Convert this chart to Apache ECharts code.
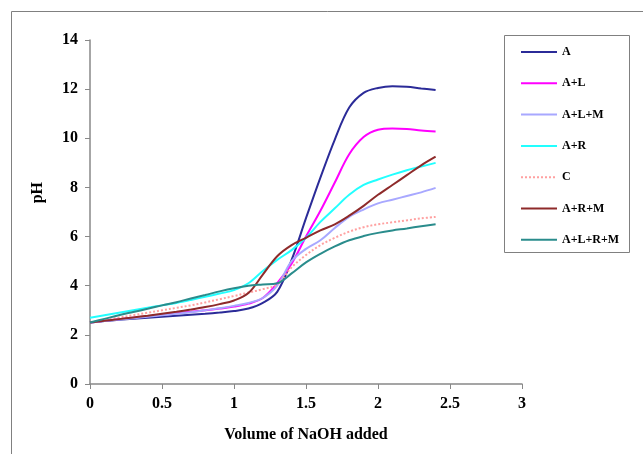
<!DOCTYPE html>
<html>
<head>
<meta charset="utf-8">
<script src="https://cdn.jsdelivr.net/npm/echarts@6/dist/echarts.min.js"></script>
<style>
html,body{margin:0;padding:0;background:#fff;}
#chart{width:643px;height:454px;}
</style>
</head>
<body>
<div id="chart"></div>
<script>
var volumes = [0,0.1,0.2,0.3,0.4,0.5,0.6,0.7,0.8,0.9,1.0,1.1,1.2,1.3,1.4,1.5,1.6,1.7,1.8,1.9,2.0,2.1,2.2,2.3,2.4];
var seriesNames = ['A','A+L','A+L+M','A+R','C','A+R+M','A+L+R+M'];
var phA      = [2.5,2.56,2.61,2.66,2.7,2.74,2.78,2.82,2.86,2.91,2.97,3.07,3.3,3.75,5.05,6.75,8.4,9.95,11.25,11.85,12.05,12.12,12.1,12.03,11.97];
var phAL     = [2.5,2.57,2.64,2.7,2.76,2.82,2.88,2.94,3.0,3.07,3.15,3.27,3.5,4.1,4.9,6.0,7.05,8.2,9.35,10.05,10.35,10.4,10.38,10.32,10.28];
var phALM    = [2.5,2.56,2.62,2.68,2.74,2.8,2.86,2.92,3.0,3.08,3.18,3.3,3.5,4.0,5.0,5.5,5.85,6.35,6.8,7.1,7.35,7.5,7.65,7.8,7.98];
var phAR     = [2.7,2.8,2.9,3.0,3.1,3.2,3.3,3.42,3.55,3.68,3.82,4.1,4.6,5.05,5.45,5.95,6.6,7.15,7.7,8.1,8.32,8.52,8.7,8.85,9.0];
var phC      = [2.5,2.6,2.7,2.8,2.9,3.0,3.1,3.2,3.32,3.45,3.58,3.72,3.86,4.05,4.75,5.25,5.65,5.95,6.2,6.38,6.5,6.58,6.66,6.74,6.8];
var phARM    = [2.5,2.57,2.64,2.71,2.78,2.86,2.94,3.03,3.13,3.25,3.4,3.7,4.45,5.2,5.65,5.95,6.25,6.5,6.85,7.25,7.7,8.1,8.5,8.9,9.25];
var phALRM   = [2.5,2.65,2.8,2.93,3.06,3.2,3.33,3.48,3.62,3.77,3.9,4.0,4.05,4.1,4.5,4.95,5.3,5.6,5.85,6.02,6.15,6.25,6.33,6.42,6.5];
var xTicks = [0,0.5,1,1.5,2,2.5,3];
var yTicks = [0,2,4,6,8,10,12,14];

var allData = [phA, phAL, phALM, phAR, phC, phARM, phALRM];
var colors = ['#2B2B98','#FF00FF','#A8A8FF','#22FFFF','#FFA0A0','#8E2A2A','#2A8C8C'];
var styles = ['solid','solid','solid','solid','dotted','solid','solid'];

function pairs(ys){ return volumes.map(function(v,i){ return [v, ys[i]]; }); }

var font = '"Liberation Serif","Times New Roman",serif';
var chart = echarts.init(document.getElementById('chart'));
chart.setOption({
  animation:false,
  backgroundColor:'#fff',
  grid:{left:90, right:121, top:40, bottom:70},
  xAxis:{
    type:'value', min:0, max:3, interval:0.5,
    axisLine:{show:true, lineStyle:{color:'#888', width:1.5}},
    axisTick:{show:true, length:5, lineStyle:{color:'#888'}},
    splitLine:{show:false},
    axisLabel:{color:'#000', fontFamily:font, fontWeight:'bold', fontSize:16, margin:12,
      formatter:function(v){ return xTicks.indexOf(v)>=0 ? String(v) : ''; }},
    name:'Volume of NaOH added', nameLocation:'middle', nameGap:43,
    nameTextStyle:{color:'#000', fontFamily:font, fontWeight:'bold', fontSize:16}
  },
  yAxis:{
    type:'value', min:0, max:14, interval:2,
    axisLine:{show:true, lineStyle:{color:'#888', width:1.5}},
    axisTick:{show:true, length:5, lineStyle:{color:'#888'}},
    splitLine:{show:false},
    axisLabel:{color:'#000', fontFamily:font, fontWeight:'bold', fontSize:16, margin:12,
      formatter:function(v){ return yTicks.indexOf(v)>=0 ? String(v) : ''; }}
  },
  legend:{
    orient:'vertical', left:520, top:46, padding:0, itemWidth:36, itemHeight:12, itemGap:19.3,
    itemStyle:{color:'rgba(0,0,0,0)', borderWidth:0, opacity:0},
    textStyle:{color:'#000', fontFamily:font, fontWeight:'bold', fontSize:12},
    data:seriesNames
  },
  graphic:[
    {type:'rect', shape:{x:11.5, y:11.5, width:700, height:500}, style:{fill:null, stroke:'#808080', lineWidth:1}, silent:true},
    {type:'rect', shape:{x:504.5, y:35.5, width:125, height:217}, style:{fill:null, stroke:'#808080', lineWidth:1}, silent:true},
    {type:'text', left:30, top:182, rotation:Math.PI/2,
      style:{text:'pH', fill:'#000', font:'bold 16px "Liberation Serif", serif'}}
  ],
  series: seriesNames.map(function(n,i){
    return {
      name:n, type:'line', symbol:'none', smooth:0.35,
      data:pairs(allData[i]),
      lineStyle:{color:colors[i], width:2, type:styles[i]},
      itemStyle:{color:colors[i]}
    };
  })
});
</script>
</body>
</html>
